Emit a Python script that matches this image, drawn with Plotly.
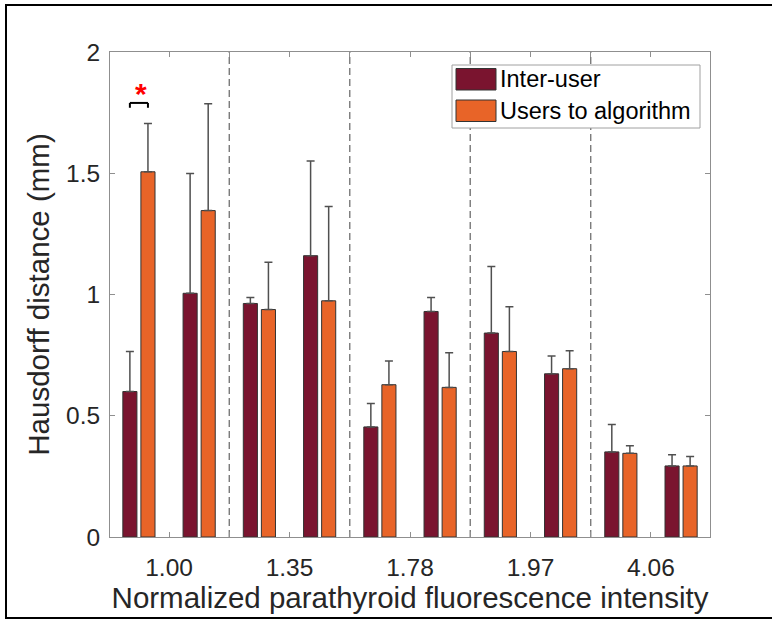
import plotly.graph_objects as go

# Normalized parathyroid fluorescence intensity, one label per pair of groups
intensity_labels = ["1.00", "1.35", "1.78", "1.97", "4.06"]
groups_per_label = 2

# Hausdorff distance (mm): mean and upper error for each group
inter_user = [0.600, 1.005, 0.963, 1.160, 0.454, 0.930, 0.841, 0.673, 0.351, 0.293]
inter_user_err = [0.165, 0.494, 0.025, 0.391, 0.097, 0.058, 0.274, 0.073, 0.113, 0.046]
users_to_algorithm = [1.506, 1.346, 0.938, 0.974, 0.628, 0.617, 0.765, 0.694, 0.345, 0.293]
users_to_algorithm_err = [0.199, 0.441, 0.195, 0.389, 0.098, 0.143, 0.185, 0.074, 0.031, 0.039]

y_ticks = [0, 0.5, 1, 1.5, 2]
y_tick_text = ["0", "0.5", "1", "1.5", "2"]

# significance marker over the first group
sig_group = 1
sig_bracket_y = 1.79
sig_leg = 0.02
sig_star_y = 1.83

MAROON = "#7A142F"
ORANGE = "#E86428"
AXIS = "#8f8f8f"
TEXT = "#262626"
FONT = "Liberation Sans, Arial, Helvetica, sans-serif"

W, H = 772, 620
ML, MR, MT, MB = 110, 62, 52, 83
PW, PH = W - ML - MR, H - MT - MB

BARGAP = 0.40
BARGROUPGAP = 0.22

n = len(inter_user)
x = list(range(1, n + 1))

fig = go.Figure()
for name, vals, errs, col in [
    ("Inter-user", inter_user, inter_user_err, MAROON),
    ("Users to algorithm", users_to_algorithm, users_to_algorithm_err, ORANGE),
]:
    fig.add_trace(go.Bar(
        x=x, y=vals, name=name, showlegend=False,
        marker=dict(color=col, line=dict(color="#333333", width=1)),
        error_y=dict(type="data", array=errs, arrayminus=[0] * n, symmetric=False,
                     color="#505050", thickness=1.5, width=4),
    ))


def px_to_paper_x(px):
    return (px - ML) / PW


def px_to_paper_y(py):
    return (H - MB - py) / PH


shapes = []
# dashed separators between intensity levels
for k in range(1, len(intensity_labels)):
    xs = k * groups_per_label + 0.5
    shapes.append(dict(type="line", xref="x", yref="y", x0=xs, x1=xs, y0=0, y1=2,
                       line=dict(color="#7a7a7a", width=1.4, dash="7px,4px"), layer="below"))

# significance bracket between the two bars of the first group
slot = (1 - BARGAP) / 2
bx0 = sig_group - slot / 2
bx1 = sig_group + slot / 2
for seg in [(bx0, sig_bracket_y, bx1, sig_bracket_y),
            (bx0, sig_bracket_y, bx0, sig_bracket_y - sig_leg),
            (bx1, sig_bracket_y, bx1, sig_bracket_y - sig_leg)]:
    shapes.append(dict(type="line", xref="x", yref="y", x0=seg[0], y0=seg[1], x1=seg[2], y1=seg[3],
                       line=dict(color="black", width=2)))

# legend box
shapes.append(dict(type="rect", xref="paper", yref="paper",
                   x0=px_to_paper_x(452), x1=px_to_paper_x(700),
                   y0=px_to_paper_y(128), y1=px_to_paper_y(65),
                   fillcolor="white", line=dict(color="#a0a0a0", width=1)))
legend_rows = [("Inter-user", MAROON, 68.5, 90), ("Users to algorithm", ORANGE, 100, 121.5)]
annotations = []
for label, col, top, bot in legend_rows:
    shapes.append(dict(type="rect", xref="paper", yref="paper",
                       x0=px_to_paper_x(456), x1=px_to_paper_x(496),
                       y0=px_to_paper_y(bot), y1=px_to_paper_y(top),
                       fillcolor=col, line=dict(color="#333333", width=1)))
    annotations.append(dict(xref="paper", yref="paper", x=px_to_paper_x(498),
                            y=px_to_paper_y((top + bot) / 2), text=label, showarrow=False,
                            xanchor="left", yanchor="middle",
                            font=dict(family=FONT, size=23.5, color="black")))

# outer frame of the figure
shapes.append(dict(type="rect", xref="paper", yref="paper",
                   x0=px_to_paper_x(6), x1=px_to_paper_x(780),
                   y0=px_to_paper_y(618), y1=px_to_paper_y(5),
                   line=dict(color="black", width=2), fillcolor="rgba(0,0,0,0)"))

annotations.append(dict(xref="x", yref="y", x=sig_group + 0.03, y=sig_star_y, text="<b>*</b>",
                        showarrow=False, xanchor="center", yanchor="middle",
                        font=dict(family=FONT, size=30, color="red")))

tick_vals = [v + 0.5 for v in range(1, n)]
tick_text = []
for v in range(1, n):
    if v % groups_per_label == 1:
        tick_text.append(intensity_labels[v // groups_per_label])
    else:
        tick_text.append("")

fig.update_layout(
    width=W, height=H,
    margin=dict(l=ML, r=MR, t=MT, b=MB, autoexpand=False),
    paper_bgcolor="white", plot_bgcolor="white",
    barmode="group", bargap=BARGAP, bargroupgap=BARGROUPGAP,
    font=dict(family=FONT, color=TEXT),
    shapes=shapes, annotations=annotations,
    xaxis=dict(range=[0.52, 10.48], tickmode="array", tickvals=tick_vals, ticktext=tick_text,
               ticks="inside", ticklen=5, tickcolor=AXIS, tickwidth=1,
               showline=True, linecolor=AXIS, linewidth=1, mirror="ticks",
               showgrid=False, zeroline=False, ticklabelstandoff=9,
               tickfont=dict(size=24.5, color=TEXT),
               title=dict(text="Normalized parathyroid fluorescence intensity",
                          font=dict(size=29.5, color=TEXT), standoff=4)),
    yaxis=dict(range=[0, 2], tickmode="array", tickvals=y_ticks, ticktext=y_tick_text,
               ticks="inside", ticklen=5, tickcolor=AXIS, tickwidth=1,
               showline=True, linecolor=AXIS, linewidth=1, mirror="ticks",
               showgrid=False, zeroline=False, ticklabelstandoff=4,
               tickfont=dict(size=24.5, color=TEXT),
               title=dict(text="Hausdorff distance (mm)", font=dict(size=29.5, color=TEXT), standoff=7)),
)

fig.write_html("out.html")
